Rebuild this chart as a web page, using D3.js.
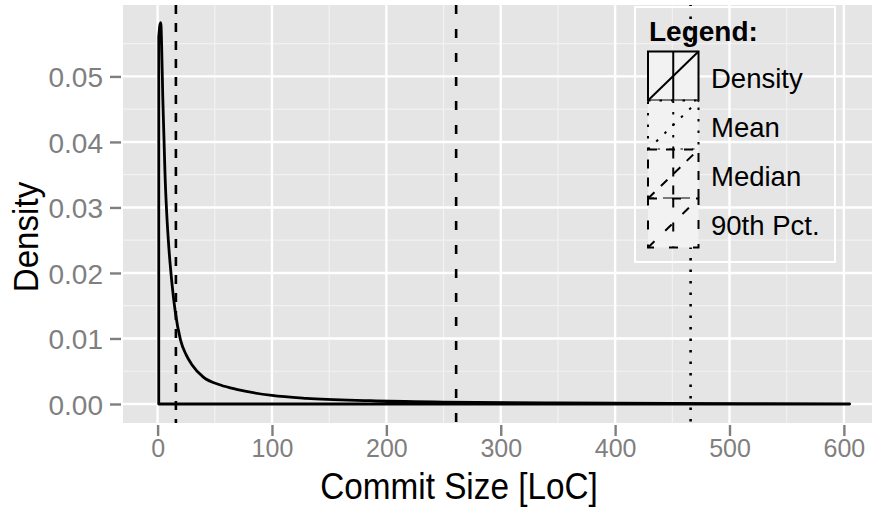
<!DOCTYPE html>
<html><head><meta charset="utf-8">
<script src="https://cdn.jsdelivr.net/npm/d3@7"></script>
<style>html,body{margin:0;padding:0;background:#fff;}svg{display:block;}</style>
</head><body>
<svg id="chart" width="872" height="508"></svg>
<script>
// ---- data ----
const densityX = [1, 2, 2.8, 3.5, 4.5, 5.5, 6.5, 8, 10, 12.5, 15.5, 20, 25, 30, 40, 55, 70, 100, 130, 186, 250, 350, 450, 605];
const densityY = [0.056, 0.0578, 0.0582, 0.055, 0.047, 0.041, 0.035, 0.029, 0.0235, 0.0185, 0.014, 0.0098, 0.0075, 0.006, 0.0041, 0.0029, 0.0022, 0.0013, 0.00085, 0.0005, 0.0003, 0.00015, 0.00008, 0.00003];
const statNames = ["Mean", "Median", "90th Pct."];
const statValues = [466, 16, 261];
const legendLabels = ["Density", "Mean", "Median", "90th Pct."];
const legendTypes = ["solid", "dotted", "dashed", "longdash"];
const xTicks = [0, 100, 200, 300, 400, 500, 600];
const yTicks = [0, 0.01, 0.02, 0.03, 0.04, 0.05];
const xMinor = [-50, 50, 150, 250, 350, 450, 550, 650];
const yMinor = [0.005, 0.015, 0.025, 0.035, 0.045, 0.055];

const dashes = {solid: null, dotted: "2.5,9", dashed: "9,9", longdash: "9,15"};
const font = "'Liberation Sans', Arial, Helvetica, sans-serif";

const svg = d3.select("#chart");
const P = {left: 123, right: 884.2, top: 5, bottom: 423};
const x = d3.scaleLinear().domain([-30.25, 635.25]).range([P.left, P.right]);
const y = d3.scaleLinear().domain([-0.0029, 0.0609]).range([P.bottom, P.top]);

// panel
svg.append("rect").attr("x", P.left).attr("y", P.top)
  .attr("width", P.right - P.left).attr("height", P.bottom - P.top).attr("fill", "#e5e5e5");

const grid = svg.append("g");
grid.selectAll(".ymin").data(yMinor).enter().append("line")
  .attr("x1", P.left).attr("x2", P.right).attr("y1", d => y(d)).attr("y2", d => y(d))
  .attr("stroke", "#f2f2f2").attr("stroke-width", 1.2);
grid.selectAll(".xmin").data(xMinor.filter(v => x(v) > P.left && x(v) < P.right)).enter().append("line")
  .attr("y1", P.top).attr("y2", P.bottom).attr("x1", d => x(d)).attr("x2", d => x(d))
  .attr("stroke", "#f2f2f2").attr("stroke-width", 1.2);
grid.selectAll(".ymaj").data(yTicks).enter().append("line")
  .attr("x1", P.left).attr("x2", P.right).attr("y1", d => y(d)).attr("y2", d => y(d))
  .attr("stroke", "#ffffff").attr("stroke-width", 2.4);
grid.selectAll(".xmaj").data(xTicks).enter().append("line")
  .attr("y1", P.top).attr("y2", P.bottom).attr("x1", d => x(d)).attr("x2", d => x(d))
  .attr("stroke", "#ffffff").attr("stroke-width", 2.4);

// axes
const xAxis = d3.axisBottom(x).tickValues(xTicks).tickSize(11).tickPadding(3).tickFormat(d3.format("d"));
const gx = svg.append("g").attr("transform", `translate(0,${P.bottom + 2})`).call(xAxis);
gx.select(".domain").remove();
gx.selectAll(".tick line").attr("stroke", "#7f7f7f").attr("stroke-width", 2.4);
gx.selectAll(".tick text").attr("fill", "#7f7f7f").attr("font-size", 25).attr("font-family", font);

const yAxis = d3.axisLeft(y).tickValues(yTicks).tickSize(11).tickPadding(7).tickFormat(d3.format(".2f"));
const gy = svg.append("g").attr("transform", `translate(${P.left - 2},0)`).call(yAxis);
gy.select(".domain").remove();
gy.selectAll(".tick line").attr("stroke", "#7f7f7f").attr("stroke-width", 2.4);
gy.selectAll(".tick text").attr("fill", "#7f7f7f").attr("font-size", 28).attr("font-family", font).attr("dy", "0.36em");

// density polygon
const pts = densityX.map((d, i) => [d, densityY[i]]);
const line = d3.line().x(d => x(d[0])).y(d => y(d[1])).curve(d3.curveMonotoneX);
const curvePath = line(pts).replace(/^M/, "L");
const dpath = `M${x(densityX[0])},${y(0)}` + curvePath + `L${x(densityX[densityX.length - 1])},${y(0)}Z`;
svg.append("path").attr("d", dpath).attr("fill", "none").attr("stroke", "#000")
  .attr("stroke-width", 2.8).attr("stroke-linejoin", "round");

// stat lines
statValues.forEach((v, i) => {
  const t = legendTypes[legendLabels.indexOf(statNames[i])];
  svg.append("line").attr("x1", x(v)).attr("x2", x(v)).attr("y1", P.top).attr("y2", P.bottom)
    .attr("stroke", "#000").attr("stroke-width", 2.6).attr("stroke-dasharray", dashes[t]);
});

// legend
const L = svg.append("g");
L.append("rect").attr("x", 635).attr("y", 7).attr("width", 200).attr("height", 255)
  .attr("fill", "none").attr("stroke", "#fff").attr("stroke-width", 2);
L.append("text").attr("x", 649).attr("y", 41).text("Legend:")
  .attr("font-family", font).attr("font-weight", "bold").attr("font-size", 28).attr("fill", "#000");
const keyW = 50.5, keyH = 49, keyX = 648, keyY0 = 51.5;
legendLabels.forEach((lab, i) => {
  const ky = keyY0 + i * keyH;
  const da = dashes[legendTypes[i]];
  const g = L.append("g");
  g.append("rect").attr("x", keyX).attr("y", ky).attr("width", keyW).attr("height", keyH)
    .attr("fill", "#f2f2f2").attr("stroke", "#000").attr("stroke-width", 2).attr("stroke-dasharray", da);
  g.append("line").attr("x1", keyX + keyW / 2).attr("x2", keyX + keyW / 2).attr("y1", ky).attr("y2", ky + keyH)
    .attr("stroke", "#000").attr("stroke-width", 2).attr("stroke-dasharray", da);
  g.append("line").attr("x1", keyX).attr("y1", ky + keyH).attr("x2", keyX + keyW).attr("y2", ky)
    .attr("stroke", "#000").attr("stroke-width", 2).attr("stroke-dasharray", da);
  g.append("text").attr("x", 711).attr("y", ky + keyH / 2 + 2).attr("dy", "0.35em").text(lab)
    .attr("font-family", font).attr("font-size", 27.5).attr("fill", "#000");
});

// axis titles
svg.append("text").attr("transform", `translate(459,499) scale(0.9,1)`).attr("text-anchor", "middle")
  .text("Commit Size [LoC]").attr("font-family", font).attr("font-size", 37).attr("fill", "#000");
svg.append("text").attr("transform", `translate(38,237) rotate(-90) scale(0.92,1)`).attr("text-anchor", "middle")
  .text("Density").attr("font-family", font).attr("font-size", 36).attr("fill", "#000");
</script>
</body></html>
